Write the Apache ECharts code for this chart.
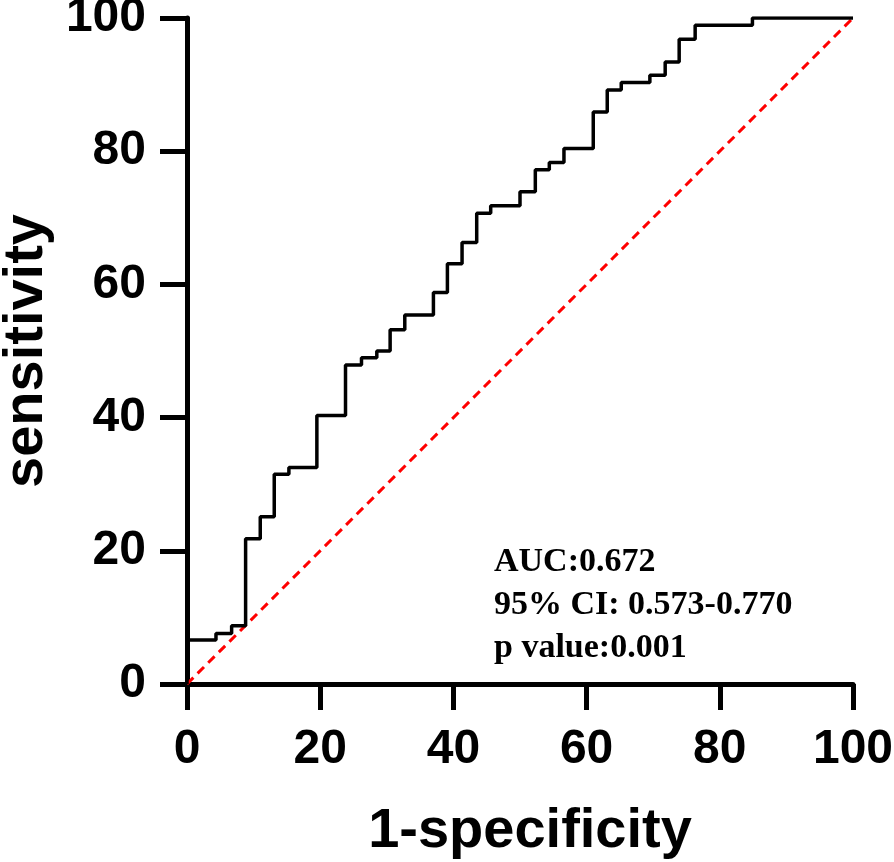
<!DOCTYPE html>
<html>
<head>
<meta charset="utf-8">
<script src="https://cdn.jsdelivr.net/npm/echarts@6/dist/echarts.min.js"></script>
<style>html,body{margin:0;padding:0;background:#fff}#c{width:894px;height:862px}</style>
</head>
<body>
<div id="c"></div>
<script>
// ROC curve corners (step: horizontal then vertical)
var fpr = [0, 0, 4.35, 6.7, 8.8, 11.0, 13.1, 15.3, 19.5, 23.8, 26.2, 28.5, 30.5, 32.7, 37.0, 39.1, 41.3, 43.5, 45.6, 50.0, 52.3, 54.4, 56.6, 61.0, 63.1, 65.2, 69.5, 71.8, 73.9, 76.3, 84.9, 100];
var tpr = [0, 6.6, 7.6, 8.75, 21.8, 25.1, 31.5, 32.5, 40.3, 47.9, 49.0, 50.0, 53.2, 55.4, 58.8, 63.1, 66.3, 70.7, 71.8, 73.9, 77.2, 78.3, 80.4, 85.9, 89.2, 90.3, 91.4, 93.4, 96.8, 98.9, 100, 100];
var refX = [0, 100];
var refY = [0, 100];
var tickValues = [0, 20, 40, 60, 80, 100];
var annotations = ['AUC:0.672', '95% CI: 0.573-0.770', 'p value:0.001'];

var rocData = fpr.map(function (x, i) { return [x, tpr[i]]; });
var refData = refX.map(function (x, i) { return [x, refY[i]]; });

var chart = echarts.init(document.getElementById('c'));
var labelFont = { fontFamily: 'Liberation Sans, Arial, sans-serif', fontWeight: 'bold', fontSize: 48, color: '#000' };
var titleFont = { fontFamily: 'Liberation Sans, Arial, sans-serif', fontWeight: 'bold', fontSize: 56, color: '#000' };
chart.setOption({
  animation: false,
  grid: { left: 187, right: 41, top: 18, bottom: 178, containLabel: false, outerBoundsMode: 'none' },
  xAxis: {
    type: 'value', min: 0, max: 100, interval: 20,
    name: '1-specificity', nameLocation: 'middle', nameGap: 120,
    nameTextStyle: Object.assign({ padding: [0, 0, 0, 20] }, titleFont),
    axisLine: { show: true, lineStyle: { color: '#000', width: 5 } },
    axisTick: { show: true, length: 26, lineStyle: { color: '#000', width: 5 } },
    axisLabel: Object.assign({ margin: 42 }, labelFont),
    splitLine: { show: false }
  },
  yAxis: {
    type: 'value', min: 0, max: 100, interval: 20,
    name: 'sensitivity', nameLocation: 'middle', nameGap: 130,
    nameTextStyle: titleFont,
    axisLine: { show: true, lineStyle: { color: '#000', width: 5 } },
    axisTick: { show: true, length: 27, lineStyle: { color: '#000', width: 5 } },
    axisLabel: Object.assign({ margin: 41 }, labelFont),
    splitLine: { show: false }
  },
  series: [
    {
      type: 'line', data: refData, symbol: 'none',
      lineStyle: { color: '#ff0000', width: 3, type: [9, 6] },
      z: 2
    },
    {
      type: 'line', data: rocData, symbol: 'none', step: 'end',
      lineStyle: { color: '#000', width: 3.5 },
      z: 3
    }
  ],
  graphic: annotations.map(function (t, i) {
    return {
      type: 'text', left: 494, top: 545 + i * 43,
      style: { text: t, fontFamily: 'Liberation Serif, Times New Roman, serif', fontWeight: 'bold', fontSize: 34, fill: '#000' }
    };
  })
});
</script>
</body>
</html>
